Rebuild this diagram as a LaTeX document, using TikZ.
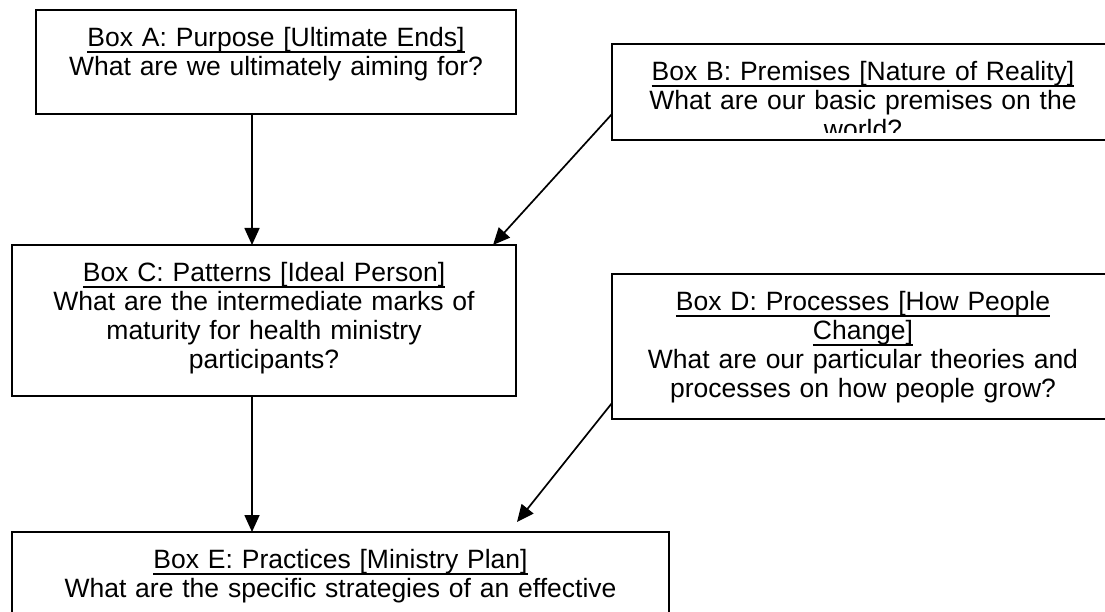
\documentclass[tikz,border=0pt]{standalone}
\usepackage{fontspec}
\setmainfont{Liberation Sans}
\usetikzlibrary{arrows.meta,calc}
\newsavebox\ulsave
\newcommand\ulbox[1]{\leavevmode\sbox\ulsave{#1}\rlap{\rule[-6.6pt]{\wd\ulsave}{1.9pt}}\usebox\ulsave}
\newcommand\firststrut{\rule{0pt}{24pt}}
\tikzset{
  box/.style={draw=black, line width=2pt, anchor=north west, inner sep=0pt, outer sep=0pt},
  txt/.style={anchor=north, inner sep=0pt, align=center, font=\fontsize{26.5}{29}\selectfont},
  arr/.style={line width=1.7pt, -{Triangle[width=15pt,length=17pt]}},
}
\begin{document}
\begin{tikzpicture}[x=1pt,y=-1pt]
\useasboundingbox (0,0) rectangle (1105,612);
\fill[white] (0,0) rectangle (1105,612);
\clip (0,0) rectangle (1105,612);

% boxes
\node[box, minimum width=480pt, minimum height=104pt] (A) at (36,10) {};
\node[box, minimum width=502pt, minimum height=96pt] (B) at (612,44) {};
\node[box, minimum width=504pt, minimum height=151pt] (C) at (12,245) {};
\node[box, minimum width=502pt, minimum height=145pt] (D) at (612,274) {};
\node[box, minimum width=657pt, minimum height=120pt] (E) at (12,532) {};

% texts
\node[txt, text width=470pt] (At) at ($(A.north)+(0,12)$)
  {\firststrut\ulbox{Box A: Purpose [Ultimate Ends]}\\What are we ultimately aiming for?};
\begin{scope}
  \clip (B.north west) rectangle ($(B.south east)+(0,-7)$);
  \node[txt, text width=490pt] (Bt) at ($(B.north)+(0,12)$)
    {\firststrut\ulbox{Box B: Premises [Nature of Reality]}\\What are our basic premises on the\\world?};
\end{scope}
\node[txt, text width=490pt] (Ct) at ($(C.north)+(0,12)$)
  {\firststrut\ulbox{Box C: Patterns [Ideal Person]}\\What are the intermediate marks of\\maturity for health ministry\\participants?};
\node[txt, text width=490pt] (Dt) at ($(D.north)+(0,12)$)
  {\firststrut\ulbox{Box D: Processes [How People}\\\ulbox{Change]}\\What are our particular theories and\\processes on how people grow?};
\node[txt, text width=640pt] (Et) at ($(E.north)+(0,12)$)
  {\firststrut\ulbox{Box E: Practices [Ministry Plan]}\\What are the specific strategies of an effective};

% connectors
\coordinate (acol) at (252,0);
\draw[arr] (A.south -| acol) -- (C.north -| acol);
\draw[arr] (C.south -| acol) -- (E.north -| acol);
\draw[arr] ($(B.north west)+(0,70)$) -- ($(C.north west)+(481,0)$);
\draw[arr] ($(D.north west)+(0,129)$) -- ($(E.north west)+(505,-10)$);
\end{tikzpicture}
\end{document}
